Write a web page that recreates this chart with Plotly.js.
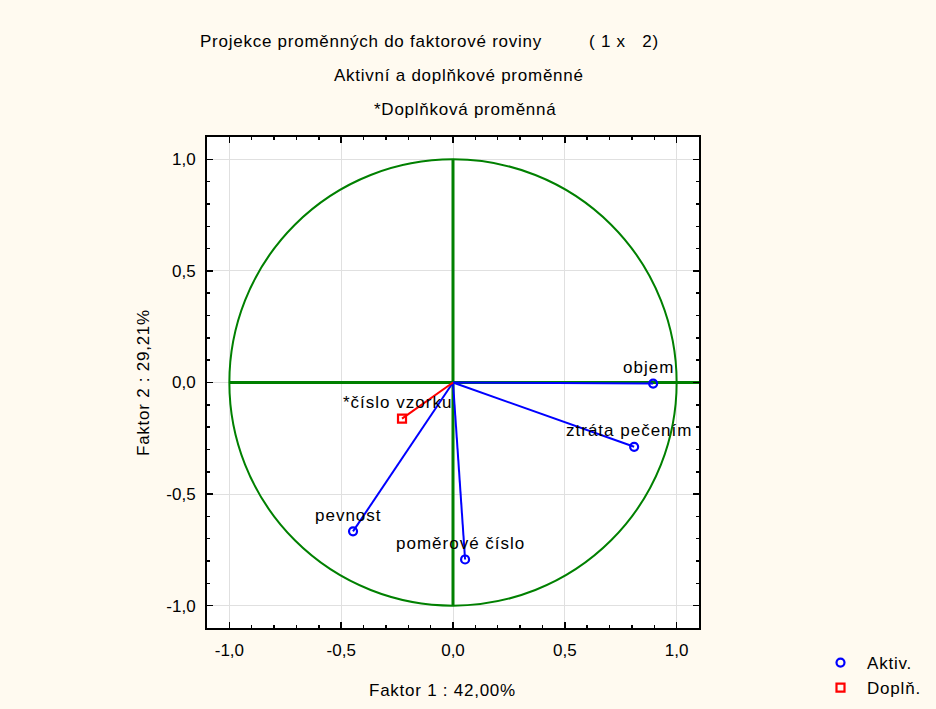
<!DOCTYPE html>
<html>
<head>
<meta charset="utf-8">
<script src="https://cdn.plot.ly/plotly-3.0.1.min.js"></script>
<style>html,body{margin:0;padding:0;background:#fffaf0;}#chart{width:936px;height:709px;}</style>
</head>
<body>
<div id="chart"></div>
<script>
// Active variables
const activeNames = ["objem", "ztráta pečením", "pevnost", "poměrové číslo"];
const activeX = [0.895, 0.81, -0.447, 0.054];
const activeY = [-0.005, -0.288, -0.667, -0.793];
// Supplementary variables
const suppNames = ["*číslo vzorku"];
const suppX = [-0.228];
const suppY = [-0.162];
// Ticks
const tickVals = [-1, -0.5, 0, 0.5, 1];
const tickText = ["-1,0", "-0,5", "0,0", "0,5", "1,0"];
// Titles
const titleMain = "Projekce proměnných do faktorové roviny";
const titleDims = "( 1 x   2)";
const subtitle1 = "Aktivní a doplňkové proměnné";
const subtitle2 = "*Doplňková proměnná";
const xTitle = "Faktor 1 : 42,00%";
const yTitle = "Faktor 2 : 29,21%";
const legendNames = ["Aktiv.", "Doplň."];

const FONT = "Liberation Sans, Arial, sans-serif";
const sp = (t, s) => '<span style="letter-spacing:' + s + 'px">' + t.replace(/  /g, " &nbsp;") + '</span>';

const L = 207, R = 237, T = 137, B = 81, W = 936, H = 709;
const pw = W - L - R, ph = H - T - B;
const px = v => (v - L) / pw;
const py = v => (H - B - v) / ph;

function spokes(xs, ys) {
  const x = [], y = [];
  xs.forEach((v, i) => { x.push(0, v, null); y.push(0, ys[i], null); });
  return {x, y};
}
const aS = spokes(activeX, activeY);
const sS = spokes(suppX, suppY);

const traces = [
  {x: aS.x, y: aS.y, mode: "lines", line: {color: "#0000ff", width: 2}, showlegend: false, hoverinfo: "skip"},
  {x: sS.x, y: sS.y, mode: "lines", line: {color: "#ff0000", width: 2}, showlegend: false, hoverinfo: "skip"},
  {x: activeX, y: activeY, mode: "markers", name: sp(legendNames[0], 0.8), legendgroup: "a",
   marker: {symbol: "circle-open", size: 8, color: "#0000ff", line: {width: 2.2}}},
  {x: suppX, y: suppY, mode: "markers", name: sp(legendNames[1], 0.8), legendgroup: "b",
   marker: {symbol: "square-open", size: 8, color: "#ff0000", line: {width: 2.2}}}
];

const lblFont = {family: FONT, size: 17, color: "#000"};
const annotations = [];
activeNames.forEach((n, i) => annotations.push({x: activeX[i], y: activeY[i], xref: "x", yref: "y", text: sp(n, 1.0), showarrow: false,
  xshift: -5, yshift: 16, font: lblFont}));
suppNames.forEach((n, i) => annotations.push({x: suppX[i], y: suppY[i], xref: "x", yref: "y", text: sp(n, 1.0), showarrow: false,
  xshift: -5, yshift: 16, font: lblFont}));
// titles (left anchored, pixel positions converted to paper)
[[titleMain, 198, 41], [titleDims, 587, 41], [subtitle1, 332, 75], [subtitle2, 372, 110], [xTitle, 367, 690]].forEach(([t, x, y]) =>
  annotations.push({x: px(x), y: py(y), xref: "paper", yref: "paper", text: sp(t, 0.75), showarrow: false,
    xanchor: "left", yanchor: "middle", font: lblFont}));
annotations.push({x: px(143), y: py(383), xref: "paper", yref: "paper", text: sp(yTitle, 0.75), showarrow: false,
  textangle: -90, xanchor: "center", yanchor: "middle", font: lblFont});

const green = "#008000";
const shapes = [
  {type: "circle", xref: "x", yref: "y", x0: -1, y0: -1, x1: 1, y1: 1, line: {color: green, width: 2}, layer: "between"},
  {type: "line", xref: "x", yref: "y", x0: -1, y0: 0, x1: 1.115, y1: 0, line: {color: green, width: 3}, layer: "between"},
  {type: "line", xref: "x", yref: "y", x0: 0, y0: -1, x1: 0, y1: 1, line: {color: green, width: 3}, layer: "between"}
];

const axisCommon = {
  range: [-1.1, 1.1], tickvals: tickVals, ticktext: tickText, showgrid: true, gridcolor: "#e0e0e0", gridwidth: 1,
  zeroline: false, showline: true, linecolor: "#000", linewidth: 2, mirror: "allticks", ticks: "inside", ticklen: 6, tickwidth: 1.5,
  tickcolor: "#000", minor: {dtick: 0.1, tick0: 0, ticks: "inside", ticklen: 3, tickcolor: "#000", showgrid: false},
  tickfont: {family: FONT, size: 17, color: "#000"}, fixedrange: true, ticklabelstandoff: 6
};

const layout = {
  width: W, height: H, margin: {l: L, r: R, t: T, b: B, autoexpand: false},
  paper_bgcolor: "#fffaf0", plot_bgcolor: "#ffffff",
  font: {family: FONT, size: 17, color: "#000"},
  xaxis: Object.assign({}, axisCommon),
  yaxis: Object.assign({}, axisCommon),
  showlegend: true,
  legend: {x: px(814), xanchor: "left", y: py(645), yanchor: "top", bgcolor: "rgba(0,0,0,0)", font: lblFont,
    itemclick: false, tracegroupgap: 0, itemwidth: 43},
  annotations: annotations, shapes: shapes
};

Plotly.newPlot("chart", traces, layout, {displayModeBar: false, staticPlot: true});
</script>
</body>
</html>
